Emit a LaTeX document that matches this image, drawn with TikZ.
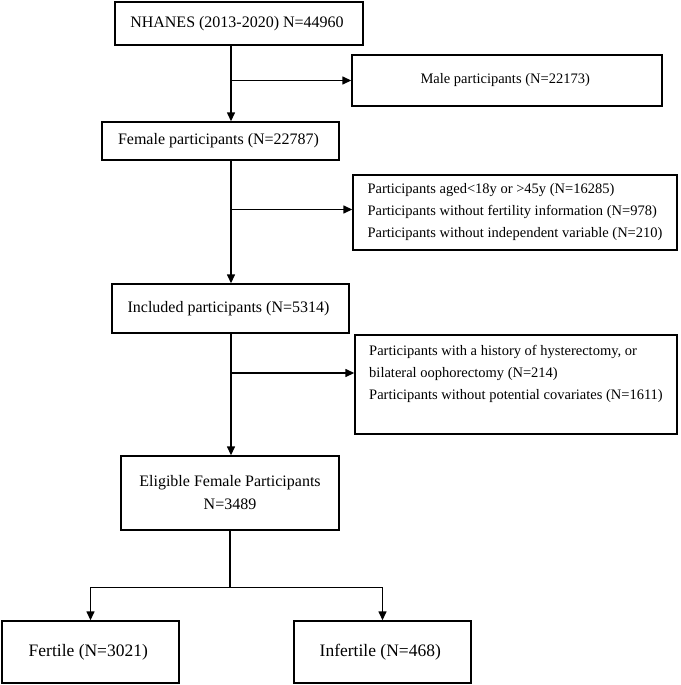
\documentclass[tikz,border=0pt]{standalone}
\usepackage{fontspec}
\setmainfont{Liberation Serif}
\usepackage{xcolor}
\usepackage{tikz}
\usetikzlibrary{shapes,arrows.meta,positioning,calc}

\begin{document}
\begin{tikzpicture}[
    x=1pt, y=-1pt,
    flowbox/.style={
        rectangle,
        draw=black,
        line width=1.4pt,
        align=center,
        inner sep=0pt,
        font=\fontsize{16}{23}\selectfont
    },
    exbox/.style={
        flowbox,
        align=left,
        font=\fontsize{14.5}{22}\selectfont
    },
    arrow/.style={-{Triangle[length=9pt,width=8pt]},line width=1.4pt,black},
    link/.style={line width=1.4pt,black}
]
    \useasboundingbox (0,0) rectangle (680,685);
    \coordinate (spine) at (231,0);

    % Main flow
    \node[flowbox, minimum width=248pt, minimum height=43pt] (nhanes) at (239,23.5) {
        NHANES (2013-2020) N=44960
    };
    \node[flowbox, minimum width=237pt, minimum height=38pt] (female) at (220.5,141) {
        Female participants (N=22787)
    };
    \node[flowbox, minimum width=237pt, minimum height=49pt] (included) at (230.5,308.5) {
        Included participants (N=5314)
    };
    \node[flowbox, minimum width=218pt, minimum height=74pt] (eligible) at (230,493) {
        Eligible Female Participants\\
        N=3489
    };

    % Exclusions
    \node[flowbox, minimum width=310pt, minimum height=51pt,
          font=\fontsize{14.5}{22}\selectfont] (male) at (507,80.5) {
        Male participants (N=22173)
    };
    \node[exbox, minimum width=324pt, minimum height=75pt] (excl1) at (515,212.5) {
        Participants aged<18y or >45y (N=16285)\\
        Participants without fertility information (N=978)\\
        Participants without independent variable (N=210)
    };
    \node[exbox, minimum width=322pt, minimum height=99pt, text depth=24pt] (excl2) at (516,384.5) {
        Participants with a history of hysterectomy, or\\
        bilateral oophorectomy (N=214)\\
        Participants without potential covariates (N=1611)
    };
    \coordinate (excl1in) at ([yshift=3pt]excl1.west);
    \coordinate (excl2in) at ([yshift=11.5pt]excl2.west);

    % Groups
    \node[flowbox, minimum width=177pt, minimum height=62pt,
          font=\fontsize{17.5}{21}\selectfont] (fertile) at (90.5,652) {
        Fertile (N=3021)
    };
    \node[flowbox, minimum width=177pt, minimum height=62pt,
          font=\fontsize{17.5}{21}\selectfont] (infertile) at (382.5,652) {
        Infertile (N=468)
    };

    % Arrows
    \draw[arrow] (nhanes.south -| spine) -- (female.north -| spine);
    \draw[arrow] (female.south -| spine) -- (included.north -| spine);
    \draw[arrow] (included.south -| spine) -- (eligible.north -| spine);
    \draw[arrow] (spine |- male.west) -- (male.west);
    \draw[arrow] (spine |- excl1in) -- (excl1in);
    \draw[arrow] (spine |- excl2in) -- (excl2in);

    % Split
    \coordinate (split) at ($(eligible.south)+(0,57)$);
    \draw[link] (eligible.south) -- (split);
    \draw[arrow] (split) -| (fertile.north);
    \draw[arrow] (split) -| (infertile.north);
\end{tikzpicture}
\end{document}
